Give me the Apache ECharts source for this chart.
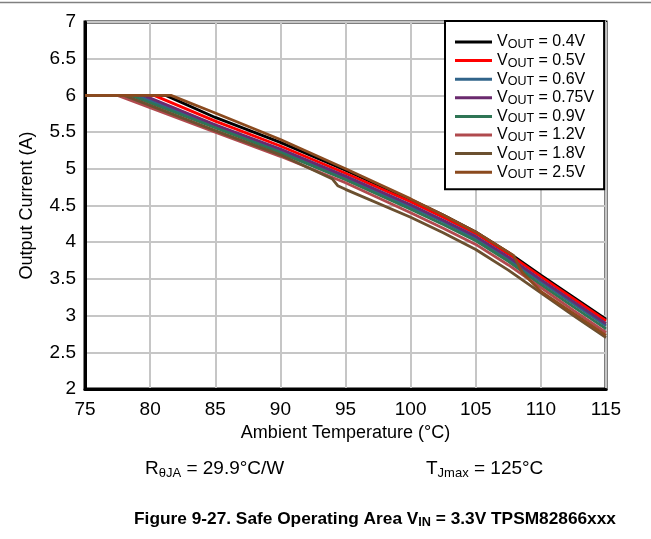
<!DOCTYPE html>
<html>
<head>
<meta charset="utf-8">
<script src="https://cdn.jsdelivr.net/npm/echarts@6/dist/echarts.min.js"></script>
<style>
html,body{margin:0;padding:0;background:#fff;}
#c{width:651px;height:539px;}
</style>
</head>
<body>
<div id="c"></div>
<script>
// ---- data ----
var voutLabels = ['0.4V','0.5V','0.6V','0.75V','0.9V','1.2V','1.8V','2.5V'];
var seriesColors = ['#000000','#ff0000','#31648a','#6a2a6e','#2e7555','#b04a4e','#6b5030','#8b4a1e'];
var v04  = [[75,6],[81.2,6],[85,5.70],[90,5.36],[95,4.98],[100,4.58],[102.5,4.37],[105,4.14],[107.5,3.86],[110,3.55],[112.5,3.25],[115,2.95]];
var v05  = [[75,6],[80.3,6],[85,5.65],[90,5.31],[95,4.94],[100,4.55],[102.5,4.34],[105,4.12],[107.5,3.84],[110,3.53],[112.5,3.23],[115,2.93]];
var v06  = [[75,6],[79.0,6],[85,5.58],[90,5.24],[95,4.88],[100,4.48],[102.5,4.28],[105,4.05],[107.5,3.77],[110,3.46],[112.5,3.16],[115,2.86]];
var v075 = [[75,6],[79.5,6],[85,5.60],[90,5.27],[95,4.90],[100,4.51],[102.5,4.30],[105,4.08],[107.5,3.80],[110,3.49],[112.5,3.19],[115,2.89]];
var v09  = [[75,6],[78.5,6],[85,5.56],[90,5.22],[95,4.85],[100,4.45],[102.5,4.24],[105,4.02],[107.5,3.74],[110,3.42],[112.5,3.12],[115,2.82]];
var v12  = [[75,6],[77.5,6],[85,5.50],[90,5.17],[95,4.81],[100,4.40],[102.5,4.19],[105,3.97],[107.5,3.69],[110,3.38],[112.5,3.07],[115,2.77]];
var v18  = [[75,6],[78.0,6],[85,5.52],[90,5.19],[94,4.86],[94.4,4.77],[95,4.72],[100,4.34],[102.5,4.13],[105,3.90],[107.5,3.62],[110,3.31],[112.5,3.00],[115,2.70]];
var v25  = [[75,6],[81.6,6],[85,5.76],[90,5.40],[95,5.00],[100,4.59],[102.5,4.37],[105,4.14],[107.9,3.82],[108.6,3.58],[110,3.33],[112.5,3.03],[115,2.73]];
var seriesData = [v04, v05, v06, v075, v09, v12, v18, v25];
var xMin = 75, xMax = 115, xStep = 5;
var yMin = 2, yMax = 7, yStep = 0.5;

// ---- chart ----
var FF = '"Liberation Sans", Arial, Helvetica, sans-serif';
var chart = echarts.init(document.getElementById('c'), null, {renderer:'canvas'});
var series = seriesData.map(function(d, i){
  return {
    name: voutLabels[i],
    type: 'line',
    data: d,
    symbol: 'none',
    smooth: false,
    lineStyle: {color: seriesColors[i], width: 2.8},
    itemStyle: {color: seriesColors[i]},
    z: 3 + i
  };
});
chart.setOption({
  animation: false,
  backgroundColor: '#fff',
  grid: {left: 85, right: 45, top: 22, bottom: 150, show: true, borderColor: '#000', borderWidth: 3, backgroundColor: 'transparent'},
  xAxis: {
    type: 'value', min: xMin, max: xMax, interval: xStep,
    name: 'Ambient Temperature (°C)', nameLocation: 'middle', nameGap: 35,
    nameTextStyle: {fontFamily: FF, fontSize: 18, color: '#000'},
    axisLine: {show: true, lineStyle: {color: '#000', width: 3}},
    axisTick: {show: false},
    axisLabel: {fontFamily: FF, fontSize: 19, color: '#000', margin: 11},
    splitLine: {show: true, lineStyle: {color: '#c6c6c6', width: 2}}
  },
  yAxis: {
    type: 'value', min: yMin, max: yMax, interval: yStep,
    name: 'Output Current (A)', nameLocation: 'middle', nameGap: 49, nameRotate: 90,
    nameTextStyle: {fontFamily: FF, fontSize: 18, color: '#000'},
    axisLine: {show: true, lineStyle: {color: '#000', width: 3}},
    axisTick: {show: false},
    axisLabel: {fontFamily: FF, fontSize: 19, color: '#000', margin: 9},
    splitLine: {show: true, lineStyle: {color: '#c6c6c6', width: 2}}
  },
  legend: {
    orient: 'vertical',
    left: 445, top: 21,
    padding: [12, 10, 8, 10],
    itemGap: 0.6,
    itemWidth: 37, itemHeight: 3,
    icon: 'rect',
    backgroundColor: '#fff',
    borderColor: '#000', borderWidth: 2,
    data: voutLabels,
    formatter: function(name){ return '{v|V}{s|OUT}{v| = ' + name + '}'; },
    textStyle: {
      fontFamily: FF, fontSize: 16, color: '#000', lineHeight: 18,
      rich: {
        v: {fontFamily: FF, fontSize: 16, color: '#000', lineHeight: 18},
        s: {fontFamily: FF, fontSize: 12.5, color: '#000', lineHeight: 11, verticalAlign: 'bottom'}
      }
    }
  },
  graphic: [
    {type: 'line', shape: {x1: 0, y1: 2.5, x2: 651, y2: 2.5}, style: {stroke: '#808080', lineWidth: 1.5}},
    {type: 'text', x: 145, y: 469, style: {
      text: '{m|R}{s|θJA}{m| = 29.9°C/W}', verticalAlign: 'middle', align: 'left',
      rich: {
        m: {fontFamily: FF, fontSize: 19, fill: '#000', lineHeight: 22},
        s: {fontFamily: FF, fontSize: 13, fill: '#000', lineHeight: 12, verticalAlign: 'bottom'}
      }
    }},
    {type: 'text', x: 426, y: 469, style: {
      text: '{m|T}{s|Jmax}{m| = 125°C}', verticalAlign: 'middle', align: 'left',
      rich: {
        m: {fontFamily: FF, fontSize: 19, fill: '#000', lineHeight: 22},
        s: {fontFamily: FF, fontSize: 13, fill: '#000', lineHeight: 12, verticalAlign: 'bottom'}
      }
    }},
    {type: 'text', x: 375, y: 519, style: {
      text: '{m|Figure 9-27. Safe Operating Area V}{s|IN}{m| = 3.3V TPSM82866xxx}', verticalAlign: 'middle', align: 'center',
      rich: {
        m: {fontFamily: FF, fontSize: 17.3, fontWeight: 'bold', fill: '#000', lineHeight: 20},
        s: {fontFamily: FF, fontSize: 12.7, fontWeight: 'bold', fill: '#000', lineHeight: 11, verticalAlign: 'bottom'}
      }
    }}
  ],
  series: series
});
</script>
</body>
</html>
